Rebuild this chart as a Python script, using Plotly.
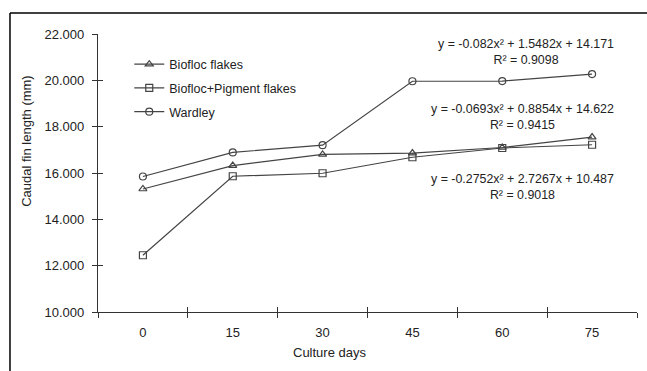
import plotly.graph_objects as go

days = ["0", "15", "30", "45", "60", "75"]
biofloc = [15.31, 16.32, 16.80, 16.86, 17.10, 17.55]
pigment = [12.45, 15.86, 15.99, 16.68, 17.08, 17.22]
wardley = [15.85, 16.89, 17.20, 19.96, 19.97, 20.27]
y_ticks = [10, 12, 14, 16, 18, 20, 22]
eq_texts = [
    "y = -0.082x² + 1.5482x + 14.171<br>R² = 0.9098",
    "y = -0.0693x² + 0.8854x + 14.622<br>R² = 0.9415",
    "y = -0.2752x² + 2.7267x + 10.487<br>R² = 0.9018",
]
eq_ypos = [0.937, 0.703, 0.451]

FONT = "Liberation Sans, Arial, sans-serif"
LC = "#444444"
TC = "#222222"

fig = go.Figure()
series = [("Biofloc flakes", biofloc, "triangle-up-open"),
          ("Biofloc+Pigment flakes", pigment, "square-open"),
          ("Wardley", wardley, "circle-open")]
for name, vals, sym in series:
    fig.add_trace(go.Scatter(
        x=days, y=vals, name=name, mode="lines+markers", legendgroup=name,
        line=dict(color=LC, width=1.2),
        marker=dict(symbol=sym, size=7, color=LC, line=dict(width=1.2, color=LC)),
    ))

for t, yp in zip(eq_texts, eq_ypos):
    fig.add_annotation(text=t, xref="paper", yref="paper", x=0.961, y=yp,
                       xanchor="right", yanchor="middle",
                       showarrow=False, align="center",
                       font=dict(size=12.4, color=TC, family=FONT))

# axis titles placed as in the reference
fig.add_annotation(text="Caudal fin length (mm)", xref="paper", yref="paper",
                   x=-0.134, y=0.615, textangle=-90, showarrow=False,
                   xanchor="center", yanchor="middle",
                   font=dict(size=13, color=TC, family=FONT))
fig.add_annotation(text="Culture days", xref="paper", yref="paper",
                   x=0.43, y=-0.147, showarrow=False,
                   xanchor="center", yanchor="middle",
                   font=dict(size=13, color=TC, family=FONT))

# frame lines (top and left border of the figure)
fig.add_shape(type="line", xref="paper", yref="paper", x0=-0.1633, x1=1.03,
              y0=1.0755, y1=1.0755, line=dict(color="black", width=1.5))
fig.add_shape(type="line", xref="paper", yref="paper", x0=-0.1633, x1=-0.1633,
              y0=1.0755, y1=-0.22, line=dict(color="black", width=1.5))

fig.update_layout(
    width=647, height=371,
    margin=dict(l=98, r=10, t=34, b=59),
    paper_bgcolor="white", plot_bgcolor="white",
    font=dict(family=FONT, size=13, color=TC),
    showlegend=True,
    legend=dict(x=0.058, y=0.944, xanchor="left", yanchor="top",
                bgcolor="rgba(0,0,0,0)", font=dict(size=12.5, family=FONT),
                itemwidth=30, tracegroupgap=4.5, traceorder="grouped"),
    xaxis=dict(
        type="category", range=[-0.5, 5.5], tickson="boundaries",
        ticks="outside", ticklen=5, tickcolor="#333", showline=True,
        linecolor="#333", linewidth=1.2, showgrid=False, zeroline=False,
        ticklabelstandoff=8,
    ),
    yaxis=dict(
        range=[10, 22], tickvals=y_ticks,
        ticktext=[f"{v:.3f}" for v in y_ticks],
        ticks="outside", ticklen=5, tickcolor="#333", showline=True,
        linecolor="#333", linewidth=1.2, showgrid=False, zeroline=False,
        ticklabelstandoff=5,
    ),
    xaxis2=dict(type="category", range=[-0.5, 5.5], overlaying="x",
                tickson="boundaries", ticks="inside", ticklen=5, tickcolor="#333",
                showticklabels=False, showgrid=False, zeroline=False,
                side="bottom", anchor="y", categoryarray=days, categoryorder="array"),
    yaxis2=dict(range=[10, 22], tickvals=y_ticks, overlaying="y", ticks="inside",
                ticklen=5, tickcolor="#333", showticklabels=False, showgrid=False,
                zeroline=False, side="left", anchor="x"),
)
fig.add_trace(go.Scatter(x=days, y=[None]*len(days), xaxis="x2", yaxis="y2",
                         showlegend=False, hoverinfo="skip"))

fig.write_html("out.html", config={"displayModeBar": False},
               post_script="document.body.style.margin='0';")
